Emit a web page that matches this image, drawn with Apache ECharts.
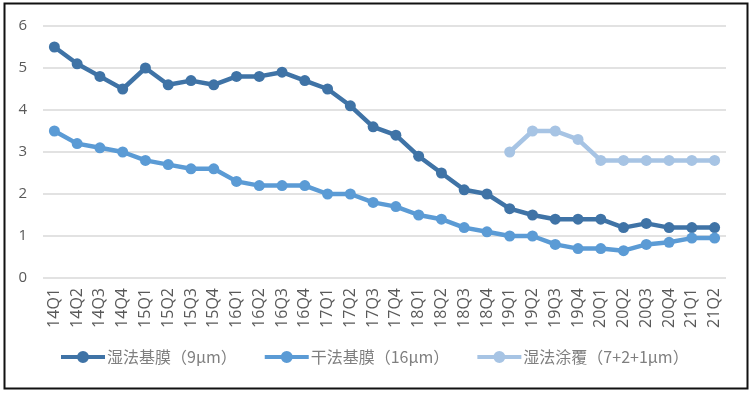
<!DOCTYPE html>
<html><head><meta charset="utf-8">
<script src="https://cdn.jsdelivr.net/npm/echarts@6/dist/echarts.min.js"></script>
<style>html,body{margin:0;padding:0;background:#fff}#c{width:756px;height:395px}</style>
</head><body><div id="c"></div>
<script>
const categories = ['14Q1','14Q2','14Q3','14Q4','15Q1','15Q2','15Q3','15Q4','16Q1','16Q2','16Q3','16Q4','17Q1','17Q2','17Q3','17Q4','18Q1','18Q2','18Q3','18Q4','19Q1','19Q2','19Q3','19Q4','20Q1','20Q2','20Q3','20Q4','21Q1','21Q2'];
const wetBase = [5.5,5.1,4.8,4.5,5.0,4.6,4.7,4.6,4.8,4.8,4.9,4.7,4.5,4.1,3.6,3.4,2.9,2.5,2.1,2.0,1.65,1.5,1.4,1.4,1.4,1.2,1.3,1.2,1.2,1.2];
const dryBase = [3.5,3.2,3.1,3.0,2.8,2.7,2.6,2.6,2.3,2.2,2.2,2.2,2.0,2.0,1.8,1.7,1.5,1.4,1.2,1.1,1.0,1.0,0.8,0.7,0.7,0.65,0.8,0.85,0.95,0.95];
const wetCoat = [null,null,null,null,null,null,null,null,null,null,null,null,null,null,null,null,null,null,null,null,3.0,3.5,3.5,3.3,2.8,2.8,2.8,2.8,2.8,2.8];
const seriesNames = ['湿法基膜（9μm）','干法基膜（16μm）','湿法涂覆（7+2+1μm）'];
const yTicks = {min:0,max:6,interval:1};

const colors = ['#3F73A6','#5B9BD5','#A7C4E4'];
const chart = echarts.init(document.getElementById('c'));
const font = '"Microsoft YaHei","Noto Sans CJK SC",sans-serif';
function mk(name,data,color){
  return {name,type:'line',data,symbol:'circle',symbolSize:11,connectNulls:false,
    lineStyle:{width:4.5,color},itemStyle:{color},emphasis:{disabled:true}};
}
const iconPath = 'path://M0,3 L17,3 L17,7 L0,7 Z M27,3 L44,3 L44,7 L27,7 Z M16,5 a6,6 0 1,1 12,0 a6,6 0 1,1 -12,0 Z';
chart.setOption({
  animation:false,
  textStyle:{fontFamily:font},
  grid:{left:43,right:30,top:26,bottom:117},
  graphic:[{type:'rect',shape:{x:4.5,y:3.5,width:743,height:385},style:{fill:'none',stroke:'#111',lineWidth:2},silent:true}],
  legend:{bottom:25,left:56,itemGap:28,itemWidth:44,itemHeight:12,
    textStyle:{color:'#7f7f7f',fontSize:16,fontFamily:font,padding:[0,0,0,-3]},
    data:seriesNames.map(n=>({name:n,icon:iconPath}))},
  xAxis:{type:'category',data:categories,boundaryGap:true,
    axisLine:{show:false},axisTick:{show:false},
    axisLabel:{rotate:90,color:'#595959',fontSize:16,margin:10,interval:0,fontFamily:'"Open Sans",sans-serif'}},
  yAxis:{type:'value',min:yTicks.min,max:yTicks.max,interval:yTicks.interval,
    axisLine:{show:false},axisTick:{show:false},
    axisLabel:{color:'#595959',fontSize:15,margin:16,fontFamily:'"Open Sans",sans-serif'},
    splitLine:{lineStyle:{color:'#d9d9d9',width:1.5}}},
  series:[mk(seriesNames[0],wetBase,colors[0]),mk(seriesNames[1],dryBase,colors[1]),mk(seriesNames[2],wetCoat,colors[2])]
});
</script></body></html>
